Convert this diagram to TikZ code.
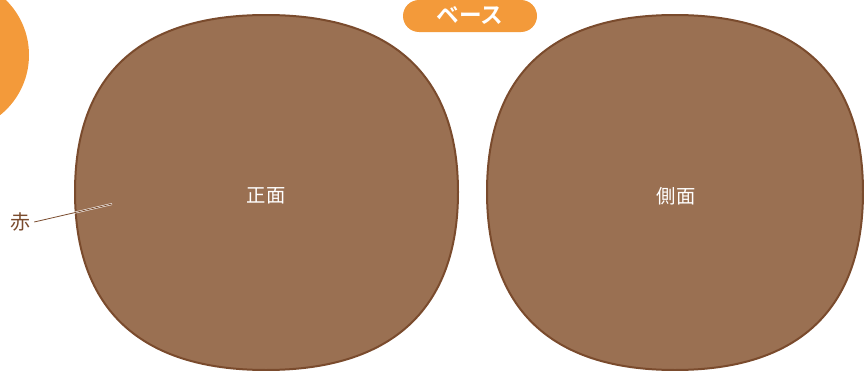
\documentclass[tikz,border=0pt]{standalone}
\usepackage{fontspec}
\newfontfamily\cjk[BoldFont={Noto Sans CJK JP Bold}]{Noto Sans CJK JP}
\usetikzlibrary{positioning}
\definecolor{basebrown}{HTML}{9A7052}
\definecolor{edgebrown}{HTML}{7A4B2D}
\definecolor{tagorange}{HTML}{F39A3A}
\begin{document}
\begin{tikzpicture}[x=0.75pt,y=-0.75pt]
\tikzstyle{blob} = [fill=basebrown, draw=edgebrown, line width=1.5pt]
\tikzset{facelabel/.style={text=white, font=\cjk\fontsize{14.5}{16}\selectfont}}
\useasboundingbox (0,0) rectangle (864,371);
% orange corner disc and tag
\fill[tagorange] (-48,55) circle (77);
\node[fill=tagorange, rounded corners=12pt, minimum width=100.5pt, minimum height=24pt, inner sep=0pt,
  text=white, font=\cjk\bfseries\fontsize{17}{19}\selectfont] (base) at (470,16) {ベース};
% front
\draw[blob] (266,15) .. controls (392,15) and (458,75) .. (458,192)
  .. controls (458,309) and (392,370) .. (266,370)
  .. controls (140,370) and (75,309) .. (75,192)
  .. controls (75,75) and (140,15) .. (266,15) -- cycle;
\node[facelabel] (front) at (266,196) {正面};
% side
\draw[blob] (675,15) .. controls (799,15) and (863,75) .. (863,192)
  .. controls (863,309) and (799,370) .. (675,370)
  .. controls (551,370) and (487,309) .. (487,192)
  .. controls (487,75) and (551,15) .. (675,15) -- cycle;
\node[facelabel] (side) at (676,196) {側面};
% red label
\node[text=edgebrown, font=\cjk\fontsize{15}{17}\selectfont, inner sep=1pt] (aka) at (20,222) {赤};
\coordinate (akaend) at (112,204);
\draw[draw=white, double=edgebrown, line width=0.4pt, double distance=0.6pt] ([xshift=2pt]aka.east) -- (akaend);
\end{tikzpicture}
\end{document}
